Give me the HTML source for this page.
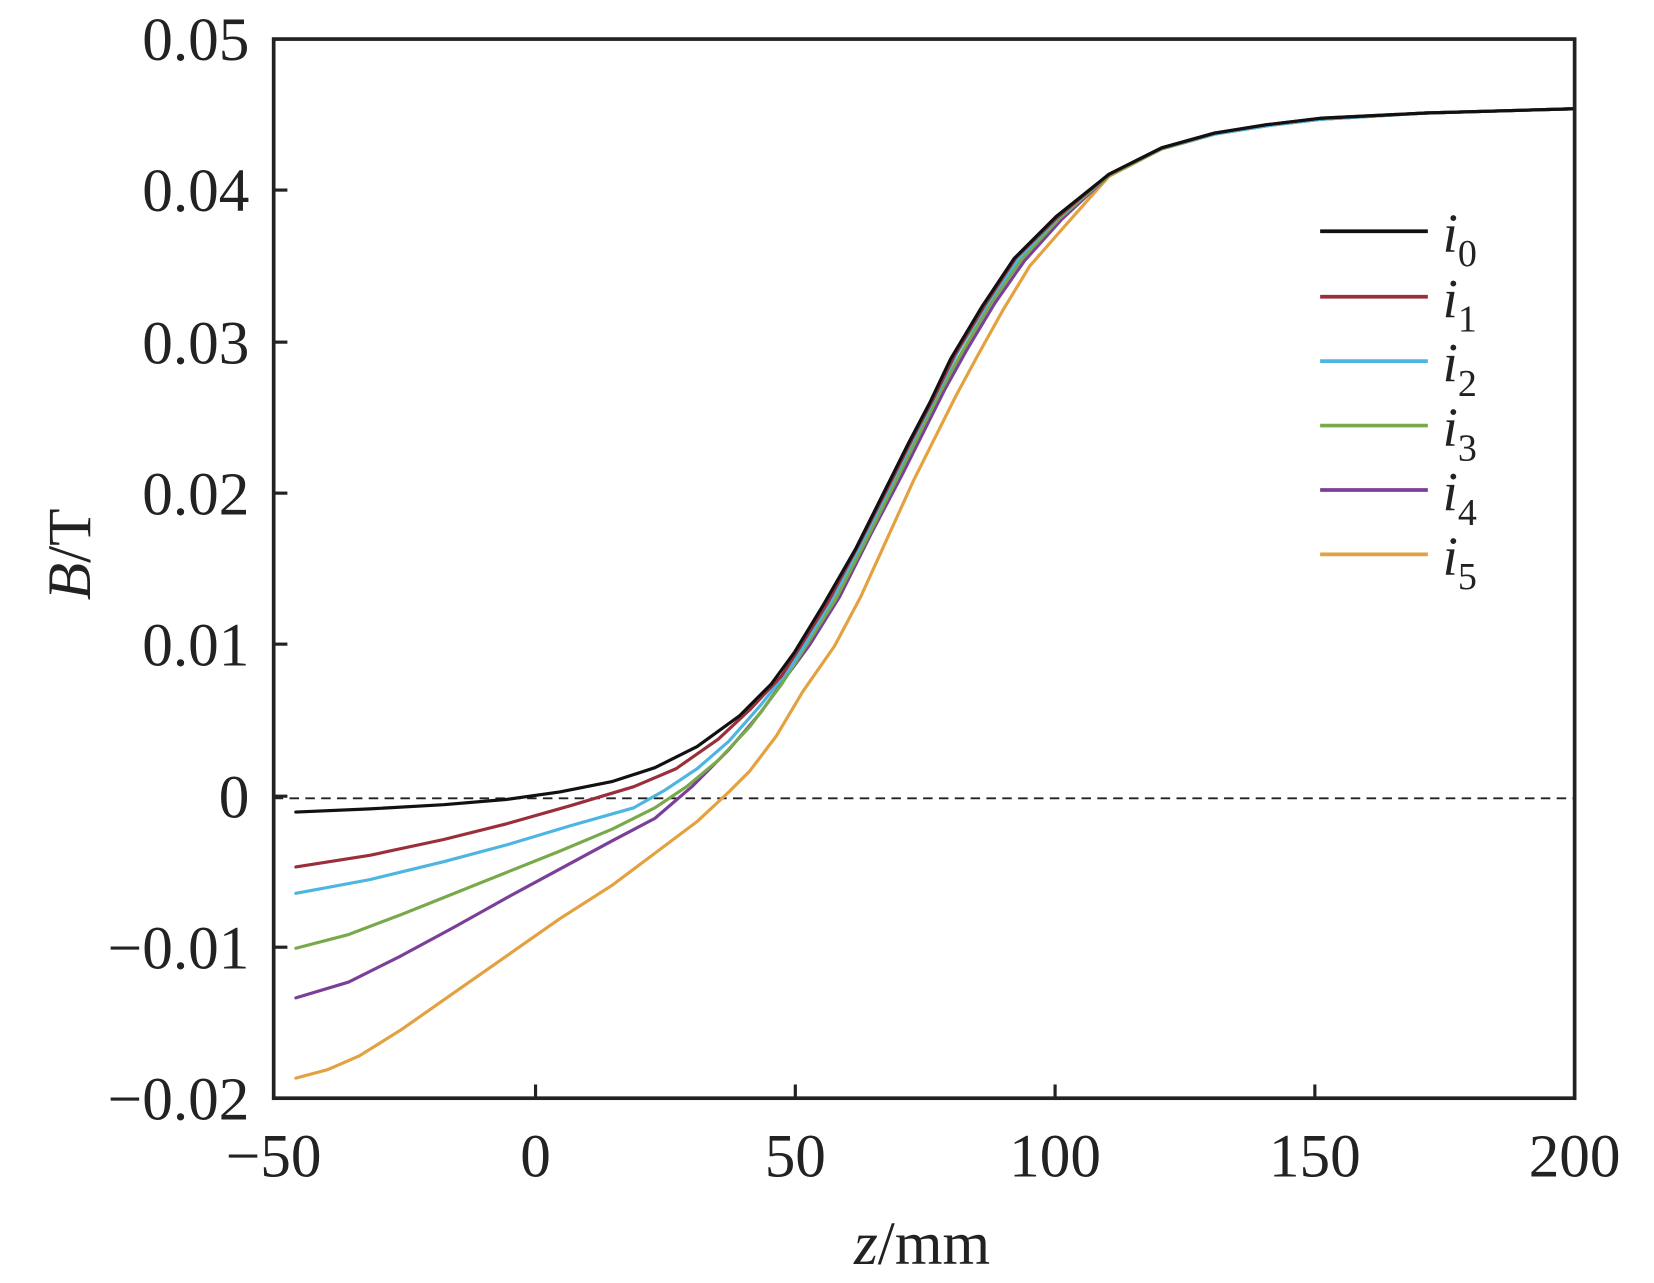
<!DOCTYPE html>
<html><head><meta charset="utf-8"><style>html,body{margin:0;padding:0;background:#fff}svg{display:block}</style></head>
<body>
<svg width="1654" height="1283" viewBox="0 0 1566 1215" xmlns="http://www.w3.org/2000/svg" font-family="'Liberation Serif',serif" fill="none">
<rect x="0" y="0" width="1566" height="1215" fill="#fff"/>
<line x1="259" y1="756" x2="1491" y2="756" stroke="#222" stroke-width="1.8" stroke-dasharray="9,6"/>
<g stroke-width="3" stroke-linejoin="round" stroke-linecap="round">
<polyline stroke="#e3a13f" points="280,1021 310,1013 340,1000 380,975 430,940 480,905 530,870 580,838 620,808 660,778 690,750 710,730 735,697 760,655 790,612 815,565 840,510 865,455 885,415 905,375 925,338 950,293 975,252 1010,212 1050,167 1100,141 1150,127 1200,119 1250,113 1350,107 1491,103"/>
<polyline stroke="#7b3f97" points="280,945 330,930 380,905 430,878 480,850 530,823 580,796 620,775 655,745 690,710 720,675 745,640 767,610 795,565 825,505 855,448 875,408 895,368 915,332 942,287 970,247 1005,208 1050,166 1100,141 1150,127 1200,119 1250,113 1350,107 1491,103"/>
<polyline stroke="#78a94a" points="280,898 330,885 380,866 430,846 480,826 530,806 580,785 620,765 650,745 680,720 710,688 740,648 763,612 791,568 821,510 851,450 871,410 891,370 911,333 939,286 967,246 1003,207 1050,166 1100,141 1150,127 1200,119 1250,113 1350,107 1491,103"/>
<polyline stroke="#4cb6e0" points="280,846 350,833 420,816 480,800 540,782 600,765 630,748 660,728 690,702 720,668 750,630 759,615 787,569 817,512 847,452 867,412 887,373 907,333 936,286 965,244 1002,206 1050,165 1100,140 1150,127 1200,119 1250,113 1350,107 1491,103"/>
<polyline stroke="#9a2f3a" points="280,821 350,810 420,795 480,780 540,763 600,745 640,728 680,700 710,672 740,640 756,615 784,570 814,514 844,455 864,415 884,377 904,336 933,288 962,244 1001,206 1050,165 1100,140 1150,126 1200,118 1250,112 1350,107 1491,103"/>
<polyline stroke="#111" points="280,769 350,766 420,762 480,757 530,750 580,740 620,727 660,707 700,678 730,648 752,618 780,572 810,520 840,460 860,420 880,382 900,340 930,290 960,245 1000,205 1050,165 1100,140 1150,126 1200,118 1250,112 1350,107 1491,103"/>
</g>
<rect x="259" y="37" width="1232" height="1003" stroke="#222" stroke-width="3.5"/>
<g stroke="#222" stroke-width="3">
<line x1="507" y1="1040" x2="507" y2="1027"/><line x1="753" y1="1040" x2="753" y2="1027"/><line x1="999" y1="1040" x2="999" y2="1027"/><line x1="1245" y1="1040" x2="1245" y2="1027"/>
<line x1="259" y1="180" x2="272" y2="180"/><line x1="259" y1="324" x2="272" y2="324"/><line x1="259" y1="467" x2="272" y2="467"/><line x1="259" y1="610" x2="272" y2="610"/><line x1="259" y1="754" x2="272" y2="754"/><line x1="259" y1="897" x2="272" y2="897"/>
</g>
<g fill="#222" font-size="58" text-anchor="end">
<text x="236" y="57">0.05</text><text x="236" y="200">0.04</text><text x="236" y="344">0.03</text><text x="236" y="487">0.02</text><text x="236" y="630">0.01</text><text x="236" y="774">0</text><text x="236" y="917">−0.01</text><text x="236" y="1060">−0.02</text>
</g>
<g fill="#222" font-size="58" text-anchor="middle">
<text x="259" y="1114">−50</text><text x="507" y="1114">0</text><text x="753" y="1114">50</text><text x="999" y="1114">100</text><text x="1245" y="1114">150</text><text x="1491" y="1114">200</text>
<text x="873" y="1197"><tspan font-style="italic">z</tspan>/mm</text>
<text transform="translate(85,525) rotate(-90)"><tspan font-style="italic">B</tspan>/T</text>
</g>
<g stroke-width="3.5">
<line x1="1250" y1="219" x2="1352" y2="219" stroke="#111"/>
<line x1="1250" y1="281" x2="1352" y2="281" stroke="#9a2f3a"/>
<line x1="1250" y1="342" x2="1352" y2="342" stroke="#4cb6e0"/>
<line x1="1250" y1="403" x2="1352" y2="403" stroke="#78a94a"/>
<line x1="1250" y1="464" x2="1352" y2="464" stroke="#7b3f97"/>
<line x1="1250" y1="525" x2="1352" y2="525" stroke="#e3a13f"/>
</g>
<g fill="#222" font-size="52">
<text x="1366" y="238"><tspan font-style="italic">i</tspan><tspan font-size="36" dy="14">0</tspan></text>
<text x="1366" y="300"><tspan font-style="italic">i</tspan><tspan font-size="36" dy="14">1</tspan></text>
<text x="1366" y="361"><tspan font-style="italic">i</tspan><tspan font-size="36" dy="14">2</tspan></text>
<text x="1366" y="422"><tspan font-style="italic">i</tspan><tspan font-size="36" dy="14">3</tspan></text>
<text x="1366" y="483"><tspan font-style="italic">i</tspan><tspan font-size="36" dy="14">4</tspan></text>
<text x="1366" y="544"><tspan font-style="italic">i</tspan><tspan font-size="36" dy="14">5</tspan></text>
</g>
</svg>
</body></html>
